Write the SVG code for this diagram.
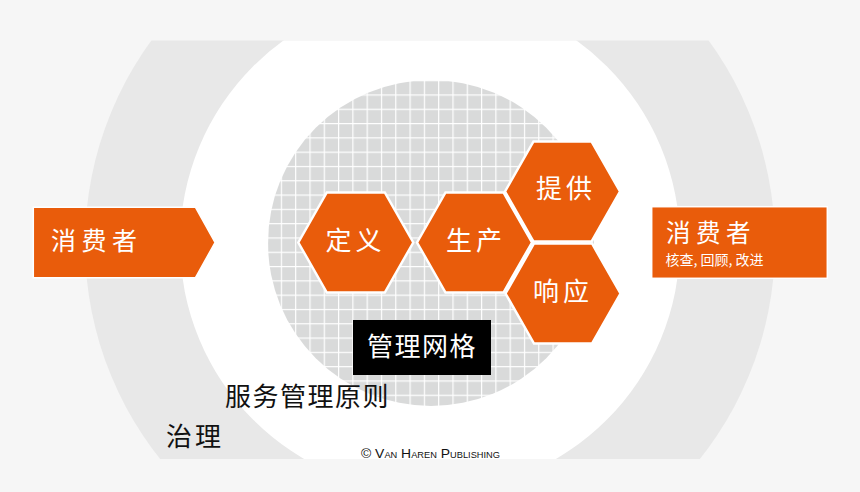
<svg xmlns="http://www.w3.org/2000/svg" width="860" height="492" viewBox="0 0 860 492">
<defs>
<clipPath id="band"><rect x="0" y="40.5" width="860" height="418.5"/></clipPath>
<pattern id="grid" patternUnits="userSpaceOnUse" x="309.4" y="108.7" width="14.3" height="14.3">
<rect width="14.3" height="14.3" fill="#d9dada"/>
<rect width="1.2" height="14.3" fill="#ffffff"/>
<rect width="14.3" height="1.2" fill="#ffffff"/>
</pattern>
<style>
.or{fill:#e95c0b;stroke:#ffffff;stroke-width:1.5}
.hx{fill:#e95c0b;stroke:#ffffff;stroke-width:2.5}
.wt{fill:#ffffff;font-family:"Noto Sans CJK SC","Noto Sans",sans-serif}
.bk{fill:#111111;font-family:"Noto Sans CJK SC","Noto Sans",sans-serif}
.hxt{font-size:26px;letter-spacing:4px;text-anchor:middle}
</style>
</defs>
<rect width="860" height="492" fill="#f6f6f6"/>
<g id="rings" clip-path="url(#band)">
<circle cx="430" cy="244" r="345" fill="#e8e8e8"/>
<circle cx="430" cy="243" r="250" fill="#ffffff"/>
<circle cx="431" cy="243" r="163" fill="url(#grid)"/>
</g>
<g id="consumer-left">
<polygon class="or" points="33.3,207.3 195.5,207.3 215,242.5 195.5,277.7 33.3,277.7"/>
<text class="wt" x="51" y="250" font-size="25" letter-spacing="5.5">消费者</text>
</g>
<g id="consumer-right">
<rect class="or" x="651.7" y="206.7" width="175.6" height="71.6"/>
<text class="wt" x="666" y="241.5" font-size="24.5" letter-spacing="5.5">消费者</text>
<text class="wt" x="665.5" y="264.5" font-size="14">核查, 回顾, 改进</text>
</g>
<g id="hex-define">
<polygon class="hx" points="298.3,242.5 326.8,192.5 384.8,192.5 413.3,242.5 384.8,292.5 326.8,292.5"/>
<text class="wt hxt" x="355.5" y="249.5">定义</text>
</g>
<g id="hex-produce">
<polygon class="hx" points="417,242.5 445.5,192.5 503.5,192.5 532,242.5 503.5,292.5 445.5,292.5"/>
<text class="wt hxt" x="476" y="249.5">生产</text>
</g>
<g id="hex-provide">
<polygon class="hx" points="505,191.5 533.5,141.5 591.5,141.5 620,191.5 591.5,241.5 533.5,241.5"/>
<text class="wt hxt" x="566" y="198">提供</text>
</g>
<g id="hex-respond">
<polygon class="hx" points="505.5,293.5 534,243.5 592,243.5 620.5,293.5 592,343.5 534,343.5"/>
<text class="wt hxt" x="563" y="300.5">响应</text>
</g>
<g id="mgmt-grid">
<rect x="353" y="320" width="138" height="55" fill="#000000"/>
<text class="wt" x="422" y="356" font-size="26" letter-spacing="1.5" text-anchor="middle">管理网格</text>
</g>
<g id="principles">
<text class="bk" x="225" y="405.5" font-size="26" letter-spacing="1.5">服务管理原则</text>
</g>
<g id="governance">
<text class="bk" x="166" y="446" font-size="26" letter-spacing="3">治理</text>
</g>
<g id="copyright">
<text x="361" y="458" font-family="Liberation Sans, Arial, sans-serif" font-size="13.5" font-variant="small-caps" fill="#111111" textLength="139" lengthAdjust="spacingAndGlyphs">© Van Haren Publishing</text>
</g>
</svg>
